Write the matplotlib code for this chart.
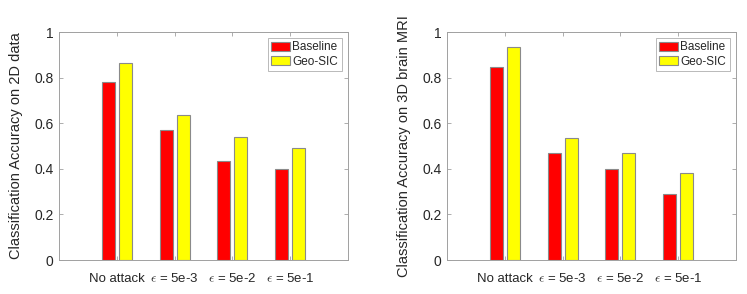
import matplotlib
matplotlib.use("Agg")
import matplotlib.pyplot as plt
import numpy as np

plt.rcParams['font.family'] = ['Liberation Sans', 'DejaVu Sans']
plt.rcParams['mathtext.fontset'] = 'cm'

categories = ['No attack', r'$\epsilon$ = 5e-3', r'$\epsilon$ = 5e-2', r'$\epsilon$ = 5e-1']
series_names = ['Baseline', 'Geo-SIC']
baseline_2d = [0.78, 0.568, 0.434, 0.40]
geosic_2d = [0.866, 0.637, 0.538, 0.49]
baseline_3d = [0.848, 0.468, 0.399, 0.291]
geosic_3d = [0.936, 0.536, 0.471, 0.380]
ylabels = ['Classification Accuracy on 2D data', 'Classification Accuracy on 3D brain MRI']
yticks = [0, 0.2, 0.4, 0.6, 0.8, 1]
ytick_labels = ['0', '0.2', '0.4', '0.6', '0.8', '1']

W, H = 747, 294
fig = plt.figure(figsize=(W / 100, H / 100), dpi=100)

text_c = '#262626'
axis_c = '#a0a0a0'
edge_c = '#8a8a8a'

axes_px = [(59.3, 32, 288.4, 228), (447.3, 32, 288.4, 228)]
datasets = [(baseline_2d, geosic_2d), (baseline_3d, geosic_3d)]

for (x0, y0, w, h), (b, g), ylab in zip(axes_px, datasets, ylabels):
    ax = fig.add_axes([x0 / W, (H - y0 - h) / H, w / W, h / H])
    x = np.arange(1, len(categories) + 1)
    bw = 0.23
    off = 0.147
    ax.bar(x - off, b, bw, color='#ff0000', edgecolor=edge_c, linewidth=0.8, label=series_names[0])
    ax.bar(x + off, g, bw, color='#ffff00', edgecolor=edge_c, linewidth=0.8, label=series_names[1])
    ax.set_xlim(0, 5)
    ax.set_ylim(0, 1)
    ax.set_xticks(x)
    ax.set_xticklabels(categories)
    ax.set_yticks(yticks)
    ax.set_yticklabels(ytick_labels)
    ax.tick_params(direction='in', length=3, width=0.6, color=axis_c, labelcolor=text_c,
                   labelsize=9.5, top=True, right=True)
    ax.tick_params(axis='x', pad=9)
    ax.tick_params(axis='y', pad=4, labelsize=10)
    for s in ax.spines.values():
        s.set_color(axis_c)
        s.set_linewidth(0.7)
    ax.set_ylabel(ylab, fontsize=10.5, color=text_c, labelpad=8)
    leg = ax.legend(loc='upper right', bbox_to_anchor=(0.979, 0.975), fontsize=8.5,
                    frameon=True, fancybox=False, handlelength=1.6, handleheight=0.8,
                    handletextpad=0.2, borderpad=0.3, labelspacing=0.2, borderaxespad=0)
    leg.get_frame().set_edgecolor('#9a9a9a')
    leg.get_frame().set_linewidth(0.6)
    for t in leg.get_texts():
        t.set_color(text_c)

fig.savefig('out.png', dpi=100)
